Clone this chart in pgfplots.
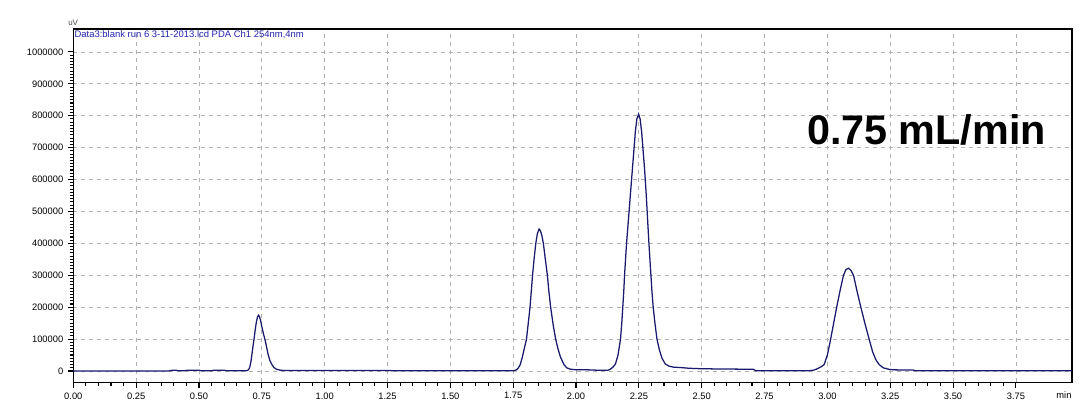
\documentclass[border=0pt]{standalone}
\usepackage{fontspec}
\setmainfont{Liberation Sans}
\usepackage{pgfplots}
\pgfplotsset{compat=1.18}
\definecolor{trace}{RGB}{25,25,110}
\definecolor{hdr}{RGB}{35,35,175}
\begin{document}
\begin{tikzpicture}
\begin{axis}[
  scale only axis, width=748.8pt, height=265.1pt,
  xmin=0, xmax=3.972, ymin=-36000, ymax=1072000,
  xtick={0,0.25,0.5,0.75,1,1.25,1.5,1.75,2,2.25,2.5,2.75,3,3.25,3.5,3.75},
  ytick={0,100000,200000,300000,400000,500000,600000,700000,800000,900000,1000000},
  minor x tick num=4, minor y tick num=9,
  scaled y ticks=false,
  xticklabel style={/pgf/number format/.cd, fixed, fixed zerofill, precision=2},
  yticklabel style={/pgf/number format/.cd, fixed, 1000 sep={}},
  /pgf/number format/assume math mode=true,
  tick align=outside, xtick pos=bottom, ytick pos=left,
  major tick length=4pt, minor tick length=2.5pt,
  grid=major,
  major grid style={gray!60, dash pattern=on 3pt off 3pt, line width=0.6pt},
  axis line style={line width=1.2pt},
  every tick/.style={black, line width=0.8pt},
  tick label style={font=\fontsize{7}{8}\selectfont},
  clip=false,
]
\addplot[trace, line width=0.95pt] coordinates {
(0.000,0) (0.380,0) (0.395,2500) (0.410,2000) (0.420,500) (0.440,500)
(0.455,2500) (0.500,2500) (0.510,500) (0.550,500) (0.560,2500) (0.600,2500)
(0.610,500) (0.685,500)
(0.692,1500) (0.697,4000) (0.702,12000) (0.707,30000) (0.711,55000) (0.715,78000)
(0.719,100000) (0.723,125000) (0.728,152000) (0.733,170000) (0.737,175000)
(0.741,170000) (0.746,155000) (0.751,135000) (0.757,115000) (0.763,97000)
(0.769,75000) (0.775,52000) (0.782,33000) (0.790,20000) (0.798,11000)
(0.808,5500) (0.823,2500) (0.840,1500) (1.260,1500) (1.270,500)
(1.745,500) (1.755,1500) (1.764,4000) (1.771,10000) (1.778,20000) (1.786,42000)
(1.794,70000) (1.803,100000) (1.810,150000) (1.817,200000) (1.822,250000)
(1.827,300000) (1.833,350000) (1.840,400000) (1.846,430000) (1.853,445000)
(1.858,440000) (1.864,425000) (1.870,400000) (1.878,350000) (1.886,300000)
(1.892,250000) (1.899,200000) (1.909,145000) (1.919,100000) (1.928,70000)
(1.938,44000) (1.952,20000) (1.963,10000) (1.975,6000) (1.995,4000)
(2.050,3500) (2.100,2000) (2.125,2000)
(2.130,3000) (2.137,6000) (2.147,12000) (2.157,22000) (2.167,50000)
(2.177,100000) (2.182,150000) (2.186,200000) (2.190,250000) (2.193,300000)
(2.197,350000) (2.201,400000) (2.206,450000) (2.211,500000) (2.216,550000)
(2.221,600000) (2.226,650000) (2.231,700000) (2.236,750000) (2.242,790000)
(2.249,805000) (2.255,790000) (2.261,750000) (2.266,700000) (2.271,650000)
(2.2755,600000) (2.2795,550000) (2.283,500000) (2.2865,450000) (2.290,400000)
(2.294,350000) (2.298,300000) (2.302,250000) (2.307,200000) (2.314,150000)
(2.322,100000) (2.332,65000) (2.342,40000) (2.355,22000) (2.370,15000)
(2.388,12000) (2.420,10500) (2.450,8500) (2.500,7000) (2.600,6000)
(2.705,5500) (2.715,1000) (2.930,1000)
(2.947,3000) (2.960,7000) (2.975,13000) (2.987,20000) (3.000,50000)
(3.013,100000) (3.025,150000) (3.037,200000) (3.050,250000) (3.064,300000)
(3.074,318000) (3.084,322000) (3.094,315000) (3.104,300000) (3.118,250000)
(3.133,200000) (3.149,150000) (3.166,100000) (3.180,60000) (3.193,35000)
(3.206,20000) (3.222,10000) (3.246,5000) (3.270,3500) (3.340,3000)
(3.350,1000) (3.972,1000)
};
\coordinate (bl) at (rel axis cs:-0.07342,-0.10042);
\coordinate (tr) at (rel axis cs:1.01833,1.08204);
\node[anchor=base, font=\fontsize{31}{31}\selectfont\bfseries, inner sep=0pt]
  at (rel axis cs:0.8546,0.6719) {0.75 mL/min};
\node[anchor=base west, font=\fontsize{7.1}{8}\selectfont, text=hdr, inner sep=0pt]
  at (rel axis cs:0.001,0.977) {Data3:blank run 6 3-11-2013.lcd PDA Ch1 254nm,4nm};
\node[anchor=base west, font=\fontsize{6}{7}\selectfont, text=black!70, inner sep=0pt]
  at (rel axis cs:-0.0053,1.0085) {uV};
\node[anchor=base east, font=\fontsize{7}{8}\selectfont, inner sep=0pt]
  at (rel axis cs:1,0) [yshift=-11.9pt] {min};
\end{axis}
\pgfresetboundingbox
\path[use as bounding box] (bl) rectangle (tr);
\end{tikzpicture}
\end{document}
